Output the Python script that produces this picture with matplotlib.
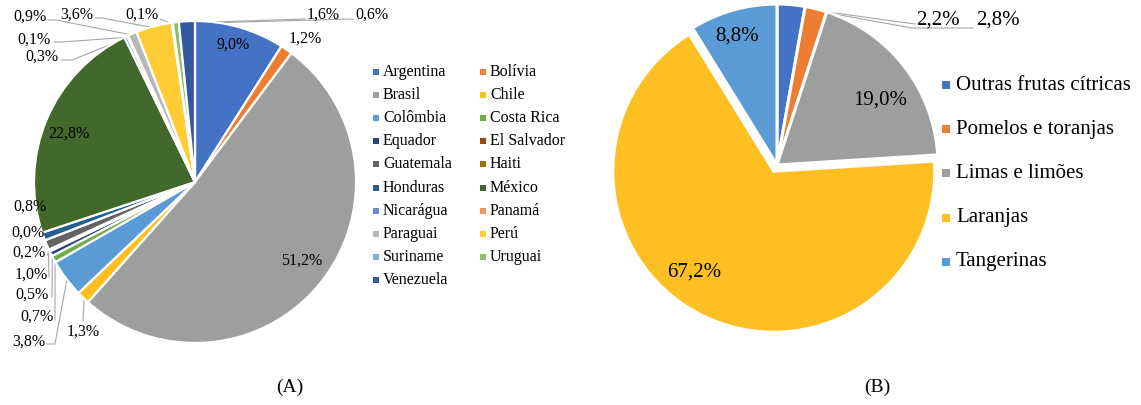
import matplotlib.pyplot as plt
import numpy as np
from matplotlib.patches import Rectangle

plt.rcParams['font.family'] = ['Liberation Serif', 'DejaVu Serif']

# (A) share of citrus production by country, %
countries = ['Argentina', 'Bolívia', 'Brasil', 'Chile', 'Colômbia', 'Costa Rica',
             'Equador', 'El Salvador', 'Guatemala', 'Haiti', 'Honduras', 'México',
             'Nicarágua', 'Panamá', 'Paraguai', 'Perú', 'Suriname', 'Uruguai',
             'Venezuela']
share_a = [9.0, 1.2, 51.2, 1.3, 3.8, 0.7, 0.5, 0.2, 1.0, 0.0, 0.8, 22.8,
           0.3, 0.1, 0.9, 3.6, 0.1, 0.6, 1.6]

# (B) share by fruit type, %
fruits = ['Outras frutas cítricas', 'Pomelos e toranjas', 'Limas e limões',
          'Laranjas', 'Tangerinas']
share_b = [2.8, 2.2, 19.0, 67.2, 8.8]

colors_a = ['#4472C4', '#ED7D31', '#9D9F9F', '#FDBF22', '#5B9BD5', '#70AD47',
            '#264478', '#9E480E', '#636363', '#997300', '#255E91', '#43682B',
            '#698ED0', '#F1975A', '#B7B7B7', '#FFCD33', '#7CAFDD', '#8CC168',
            '#335AA1']
colors_b = ['#4472C4', '#ED7D31', '#9D9F9F', '#FDBF22', '#5B9BD5']

W, H = 1141, 405
LINE = '#A6A6A6'


def px(x, y):
    # pixel position measured from the top-left corner
    return x, H - y


def pct(v):
    return f'{v:.1f}%'.replace('.', ',')


def edge_point(w, frac=1.0):
    th = np.radians((w.theta1 + w.theta2) / 2)
    return (w.center[0] + frac * w.r * np.cos(th),
            w.center[1] + frac * w.r * np.sin(th))


fig = plt.figure(figsize=(W / 100, H / 100), dpi=100)
ax = fig.add_axes([0, 0, 1, 1])

# ---- pie A ----
wedges_a, _ = ax.pie(share_a, colors=colors_a, startangle=90, counterclock=False,
                     center=px(195, 182), radius=161,
                     wedgeprops=dict(edgecolor='white', linewidth=1.6))

inner_a = {'Argentina': (233, 45), 'Brasil': (302, 261), 'México': (69, 134)}
# label centre and the leader path from the label towards the slice
outer_a = {
    'Bolívia': ((305, 39), None),
    'Chile': ((83, 332), [(83, 321)]),
    'Colômbia': ((29, 342), [(47, 344), (55, 344)]),
    'Costa Rica': ((37, 317), [(55, 320)]),
    'Equador': ((32, 295), [(52, 297)]),
    'El Salvador': ((29, 253), [(47, 255)]),
    'Guatemala': ((31, 275), [(49, 277)]),
    'Haiti': ((28, 233), [(46, 236)]),
    'Honduras': ((30, 207), [(48, 212)]),
    'Nicarágua': ((42, 57), [(62, 60), (72, 60)]),
    'Panamá': ((34, 40), [(54, 42), (62, 42)]),
    'Paraguai': ((30, 17), [(48, 20), (56, 20)]),
    'Perú': ((77, 15), [(95, 18), (102, 18)]),
    'Suriname': ((142, 15), [(160, 19)]),
    'Venezuela': ((323, 15), [(305, 19)]),
    'Uruguai': ((372, 15), [(353, 19)]),
}

for w, name, v in zip(wedges_a, countries, share_a):
    if name in inner_a:
        ax.text(*px(*inner_a[name]), pct(v), fontsize=11.5, ha='center', va='center')
    elif name in outer_a:
        pos, path = outer_a[name]
        ax.text(*px(*pos), pct(v), fontsize=11.5, ha='center', va='center')
        if path:
            pts = [px(*p) for p in path] + [edge_point(w, 0.99)]
            xs, ys = zip(*pts)
            ax.plot(xs, ys, color=LINE, lw=0.8, zorder=0.5)

# legend A, two columns filled row by row
for i, (name, c) in enumerate(zip(countries, colors_a)):
    row, col = divmod(i, 2)
    mx = 375.5 + col * 107
    my = 72 + row * 23.1
    x0, y0 = px(mx - 3, my + 3)
    ax.add_patch(Rectangle((x0, y0), 6, 6, color=c, lw=0))
    ax.text(*px(mx + 7.5, my), name, fontsize=11.5, ha='left', va='center')

# ---- pie B ----
explode_b = [0, 0, 0, 7, 0]
wedges_b, _ = ax.pie(share_b, colors=colors_b, startangle=90, counterclock=False,
                     center=px(777, 165), radius=161, explode=explode_b,
                     wedgeprops=dict(edgecolor='white', linewidth=2.2))

inner_b = {'Limas e limões': (880, 100), 'Laranjas': (694, 272), 'Tangerinas': (737, 36)}
outer_b = {
    'Outras frutas cítricas': ((998, 20), [(973, 28), (912, 28)]),
    'Pomelos e toranjas': ((938, 20), [(915, 24)]),
}

for w, name, v in zip(wedges_b, fruits, share_b):
    if name in inner_b:
        ax.text(*px(*inner_b[name]), pct(v), fontsize=15, ha='center', va='center')
    else:
        pos, path = outer_b[name]
        ax.text(*px(*pos), pct(v), fontsize=15, ha='center', va='center')
        pts = [px(*p) for p in path] + [edge_point(w, 0.99)]
        xs, ys = zip(*pts)
        ax.plot(xs, ys, color=LINE, lw=0.8, zorder=0.5)

for i, (name, c) in enumerate(zip(fruits, colors_b)):
    my = 85 + i * 44.2
    x0, y0 = px(942, my + 4)
    ax.add_patch(Rectangle((x0, y0), 8, 8, color=c, lw=0))
    ax.text(*px(956, my), name, fontsize=15, ha='left', va='center')

ax.text(*px(290, 387), '(A)', fontsize=14, ha='center', va='center')
ax.text(*px(877, 387), '(B)', fontsize=14, ha='center', va='center')

ax.set_xlim(0, W)
ax.set_ylim(0, H)
ax.set_aspect('equal')
ax.axis('off')

fig.savefig('out.png', dpi=100)
